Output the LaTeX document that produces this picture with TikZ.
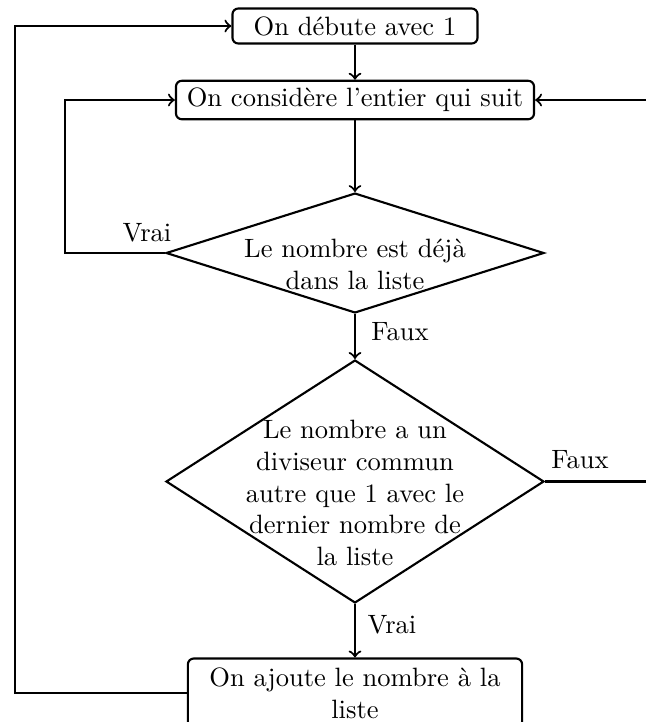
\documentclass[tikz,border=0pt]{standalone}
\usetikzlibrary{shapes.geometric}
\begin{document}
\begin{tikzpicture}[x=0.377pt,y=-0.377pt,
  every node/.style={font=\fontsize{10}{12}\selectfont},
  line/.style={line width=0.8pt},
  arr/.style={line width=0.8pt,->},
  rbox/.style={draw,line width=0.8pt,rounded corners=2.2pt,inner sep=1pt,align=center},
  dia/.style={draw,line width=0.8pt,diamond,inner sep=0pt},
  lbl/.style={inner sep=1pt}]
\useasboundingbox (0,0) rectangle (646,722);
\node[rbox,minimum width=92.4pt,minimum height=13.2pt] (b1) at (355,26) {On débute avec 1};
\node[rbox,minimum width=135pt,minimum height=14.5pt] (b2) at (355,100) {On considère l'entier qui suit};
\node[dia,minimum width=142.5pt,minimum height=45.2pt] (d1) at (355,253) {};
\node[align=center] (t1) at (355,264) {Le nombre est déjà\\dans la liste};
\node[dia,minimum width=142.5pt,minimum height=91.6pt] (d2) at (355,481.5) {};
\node[align=center] (t2) at (355,493) {Le nombre a un\\diviseur commun\\autre que 1 avec le\\dernier nombre de\\la liste};
\node[rbox,minimum width=126pt,minimum height=26pt] (b3) at (355,693) {On ajoute le nombre à la\\liste};
\coordinate (cl1) at (65,253);
\coordinate (cl1t) at (65,100);
\coordinate (cr) at (660,100);
\coordinate (cr2) at (660,481.5);
\coordinate (cl3) at (15,693);
\coordinate (cl3t) at (15,26);
\node[lbl] (v1) at (147,233) {Vrai};
\node[lbl] (f1) at (400,332) {Faux};
\node[lbl] (f2) at (580,460) {Faux};
\node[lbl] (v2) at (392,625) {Vrai};
\draw[arr] (b1.south) -- (b2.north);
\draw[arr] (b2.south) -- (d1.north);
\draw[arr] (d1.south) -- (d2.north);
\draw[arr] (d2.south) -- (b3.north);
\draw[arr] (d1.west) -- (cl1) -- (cl1t) -- (b2.west);
\draw[line] (d2.east) -- (cr2);
\draw[arr] (cr) -- (b2.east);
\draw[arr] (b3.west) -- (cl3) -- (cl3t) -- (b1.west);
\end{tikzpicture}
\end{document}
